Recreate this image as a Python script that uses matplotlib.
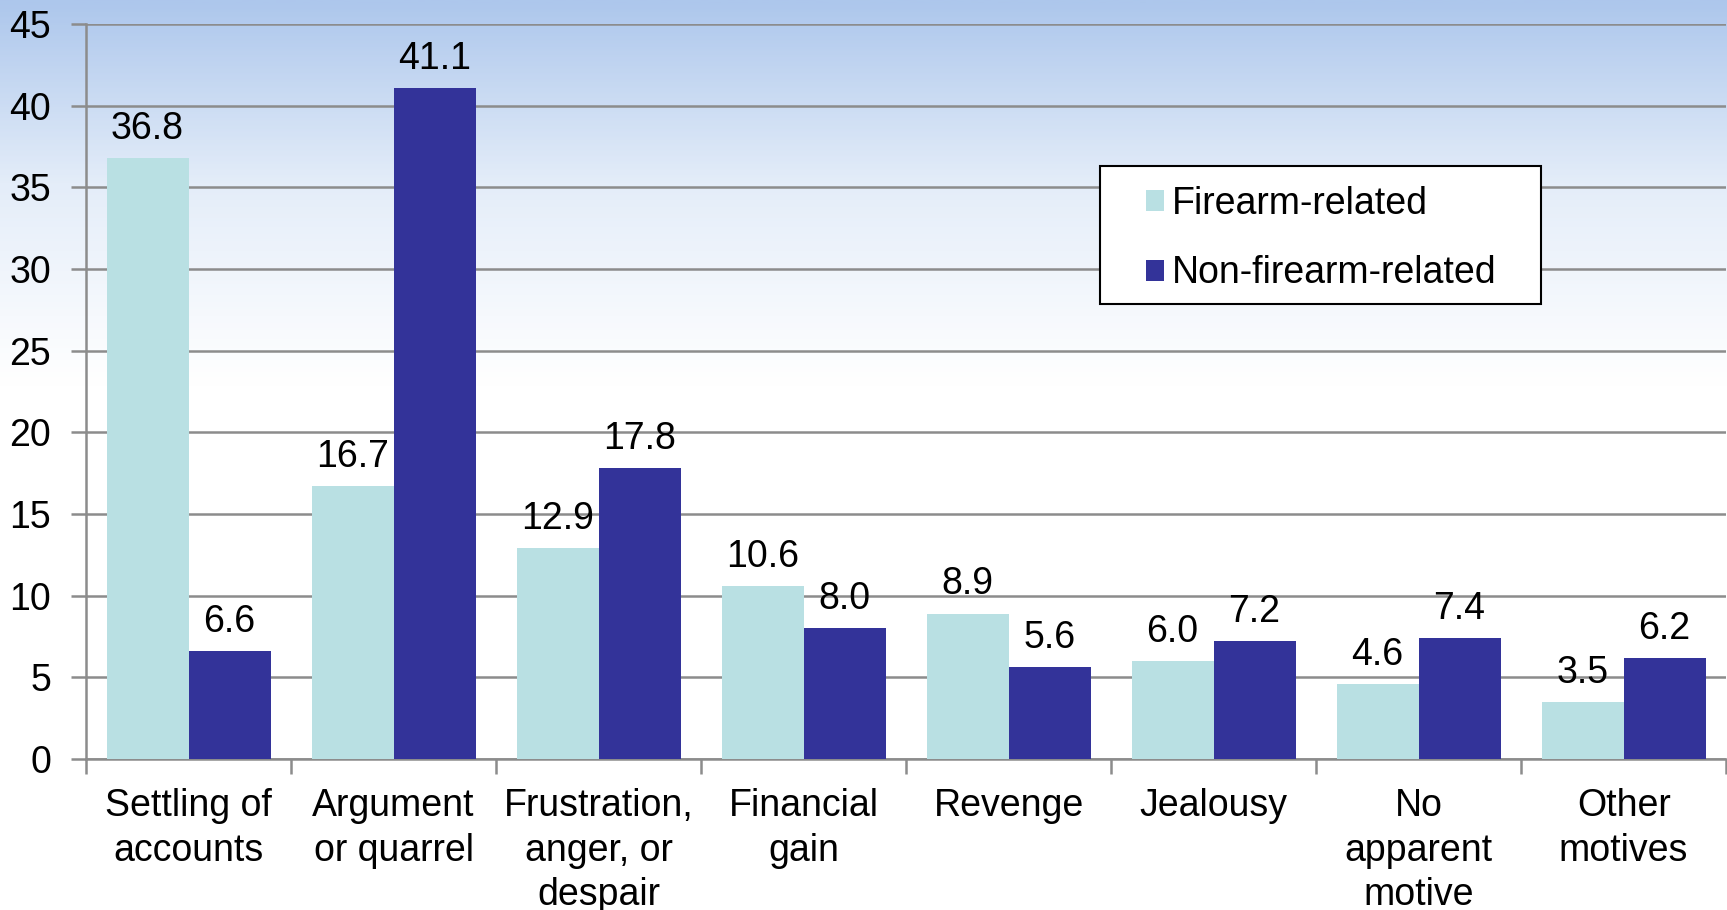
import numpy as np
import matplotlib.pyplot as plt
from matplotlib.colors import LinearSegmentedColormap
from matplotlib.patches import Rectangle

plt.rcParams['font.family'] = ['Liberation Sans', 'DejaVu Sans']

# Data
categories = ['Settling of\naccounts', 'Argument\nor quarrel', 'Frustration,\nanger, or\ndespair',
              'Financial\ngain', 'Revenge', 'Jealousy', 'No\napparent\nmotive', 'Other\nmotives']
firearm = [36.8, 16.7, 12.9, 10.6, 8.9, 6.0, 4.6, 3.5]
non_firearm = [6.6, 41.1, 17.8, 8.0, 5.6, 7.2, 7.4, 6.2]

light = '#B9E0E3'
dark = '#333399'
grid_col = '#8C8C8C'
fs = 27

fig = plt.figure(figsize=(17.27, 9.10), dpi=100)

# gradient background (light blue at top fading to white)
bg = fig.add_axes([0, 0, 1, 1], zorder=0)
cmap = LinearSegmentedColormap.from_list('bg', [(0.0, '#FFFFFF'), (0.58, '#FFFFFF'),
                                                 (0.8, '#E4EDF9'), (1.0, '#ADC7EC')])
grad = np.linspace(0, 1, 400).reshape(-1, 1)
bg.imshow(grad, aspect='auto', cmap=cmap, origin='lower', extent=[0, 1, 0, 1])
bg.axis('off')

ax = fig.add_axes([0.0498, 0.166, 0.9497, 0.8076], zorder=1)
ax.patch.set_alpha(0)

x = np.arange(len(categories))
w = 0.4
b1 = ax.bar(x - w / 2, firearm, w, color=light, label='Firearm-related', zorder=3)
b2 = ax.bar(x + w / 2, non_firearm, w, color=dark, label='Non-firearm-related', zorder=3)

for bars, vals in [(b1, firearm), (b2, non_firearm)]:
    for rect, v in zip(bars, vals):
        ax.annotate(f'{v:.1f}', (rect.get_x() + rect.get_width() / 2, v),
                    xytext=(0, 8), textcoords='offset points',
                    ha='center', va='bottom', fontsize=fs, zorder=4)

ax.set_xlim(-0.5, len(categories) - 0.5)
ax.set_ylim(0, 45)
ax.set_yticks(range(0, 46, 5))
ax.yaxis.grid(True, color=grid_col, linewidth=1.8, zorder=1)
ax.set_axisbelow(True)

# category labels between boundary ticks
ax.set_xticks(x)
ax.set_xticklabels(categories, fontsize=fs, linespacing=1.3)
ax.tick_params(axis='x', length=0, pad=21)
ax.set_xticks(np.arange(-0.5, len(categories)), minor=True)
ax.tick_params(axis='x', which='minor', length=11, width=1.8, color=grid_col, direction='out')
ax.tick_params(axis='y', length=11, width=1.8, color=grid_col, labelsize=fs, pad=14)

for s in ['top', 'right']:
    ax.spines[s].set_visible(False)
for s in ['left', 'bottom']:
    ax.spines[s].set_color(grid_col)
    ax.spines[s].set_linewidth(1.8)

# legend box drawn separately, entries placed inside it
box = Rectangle((0.618, 0.619), 0.269, 0.188, transform=ax.transAxes,
                facecolor='white', edgecolor='black', linewidth=1.5, zorder=5)
ax.add_patch(box)
leg = ax.legend(loc='upper left', bbox_to_anchor=(0.646, 0.780), fontsize=fs,
                frameon=False, handlelength=0.48, handleheight=0.48, handletextpad=0.22,
                labelspacing=0.9, borderpad=0, borderaxespad=0)
leg.set_zorder(6)

fig.savefig('out.png', dpi=100)
